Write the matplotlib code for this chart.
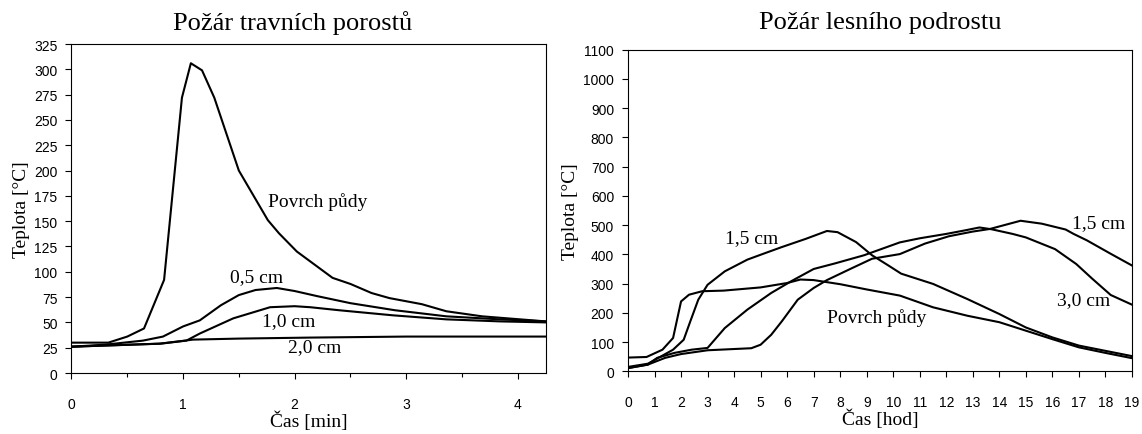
import matplotlib
matplotlib.use('Agg')
import matplotlib.pyplot as plt
from matplotlib.ticker import MultipleLocator

# pozar travnich porostu (cas v minutach)
t_povrch = [0, 0.33, 0.5, 0.65, 0.83, 0.99, 1.07, 1.17, 1.28, 1.5, 1.76, 1.86, 2.02, 2.34, 2.5, 2.69, 2.85, 3.14, 3.36, 3.68, 4.25]
T_povrch = [30, 30, 36, 44, 92, 272, 306, 299, 272, 200, 151, 138, 120, 94, 88, 79, 74, 68, 61, 56, 51]
t_05 = [0, 0.3, 0.64, 0.82, 1.0, 1.15, 1.34, 1.5, 1.65, 1.84, 2.0, 2.2, 2.5, 2.9, 3.36, 3.84, 4.25]
T_05 = [26, 28, 32, 36, 46, 52, 67, 77, 82, 84, 81, 76, 69, 62, 56, 53, 51]
t_10 = [0, 0.8, 1.03, 1.15, 1.45, 1.78, 2.0, 2.14, 2.4, 2.88, 3.36, 3.84, 4.25]
T_10 = [26, 29, 32, 39, 54, 65, 66, 65, 62, 57, 53, 51, 50]
t_20 = [0, 0.79, 1.09, 1.5, 2.14, 3.0, 4.25]
T_20 = [26, 29, 33, 34, 35, 36, 36]

# pozar lesniho podrostu (cas v hodinach)
h_povrch = [0, 0.7, 1.3, 1.7, 2.0, 2.3, 2.8, 3.6, 5.0, 6.0, 6.5, 7.0, 8.0, 9.0, 10.25, 11.5, 12.8, 14.0, 15.0, 16.0, 17.0, 18.0, 19.0]
L_povrch = [47, 49, 74, 114, 239, 262, 274, 276, 287, 302, 314, 312, 298, 280, 259, 219, 190, 168, 139, 110, 82, 63, 45]
h_15a = [0, 0.75, 1.7, 2.1, 2.35, 2.65, 3.0, 3.65, 4.5, 5.1, 5.8, 6.7, 7.5, 7.9, 8.6, 9.2, 9.8, 10.3, 11.5, 12.8, 14.0, 15.0, 16.0, 17.0, 18.0, 19.0]
L_15a = [15, 26, 74, 108, 171, 245, 296, 342, 382, 402, 425, 453, 480, 476, 442, 397, 363, 334, 299, 247, 196, 150, 116, 88, 70, 52]
h_30 = [0, 0.75, 1.1, 1.75, 2.4, 3.0, 3.65, 4.5, 5.4, 6.15, 7.0, 7.8, 8.9, 10.25, 11.0, 12.0, 12.7, 13.25, 13.7, 14.5, 15.0, 16.1, 16.9, 17.5, 18.2, 19.0]
L_30 = [11, 23, 46, 63, 74, 80, 148, 211, 268, 308, 350, 369, 397, 441, 455, 470, 482, 492, 486, 470, 458, 418, 367, 317, 261, 228]
h_15b = [0, 0.75, 1.4, 2.0, 3.0, 4.65, 5.0, 5.4, 5.8, 6.4, 7.0, 7.5, 8.4, 9.2, 10.25, 11.2, 12.1, 13.0, 13.65, 14.8, 15.6, 16.5, 16.8, 17.3, 18.2, 19.0]
L_15b = [11, 23, 46, 59, 72, 79, 91, 125, 171, 245, 285, 312, 351, 385, 401, 437, 462, 478, 487, 515, 505, 485, 470, 448, 402, 362]

serif = 'Liberation Serif'
sans = 'Liberation Sans'

fig = plt.figure(figsize=(11.42, 4.35), dpi=100)
ax1 = fig.add_axes([0.0626, 0.1402, 0.4152, 0.7563])
ax2 = fig.add_axes([0.5499, 0.1441, 0.4413, 0.7393])

lw = 1.5
for x, y in [(t_povrch, T_povrch), (t_05, T_05), (t_10, T_10), (t_20, T_20)]:
    ax1.plot(x, y, color='black', lw=lw)
for x, y in [(h_povrch, L_povrch), (h_15a, L_15a), (h_30, L_30), (h_15b, L_15b)]:
    ax2.plot(x, y, color='black', lw=lw)

ax1.set_xlim(0, 4.25)
ax1.set_ylim(0, 325)
ax1.xaxis.set_major_locator(MultipleLocator(1))
ax1.xaxis.set_minor_locator(MultipleLocator(0.5))
ax1.yaxis.set_major_locator(MultipleLocator(25))

ax2.set_xlim(0, 19)
ax2.set_ylim(0, 1100)
ax2.xaxis.set_major_locator(MultipleLocator(1))
ax2.yaxis.set_major_locator(MultipleLocator(100))

for ax in (ax1, ax2):
    ax.tick_params(which='both', direction='out', length=4, width=0.8)
    ax.tick_params(axis='x', which='major', pad=13)
    ax.tick_params(axis='y', pad=6)
    ax.tick_params(axis='x', which='minor', length=3)
    for lab in ax.get_xticklabels() + ax.get_yticklabels():
        lab.set_fontfamily(sans)
        lab.set_fontsize(10)
    for s in ax.spines.values():
        s.set_linewidth(0.8)
    ax.set_ylabel('Teplota [°C]', fontfamily=serif, fontsize=14, labelpad=3)

ax1.set_xlabel('Čas [min]', fontfamily=serif, fontsize=14, labelpad=0)
ax2.set_xlabel('Čas [hod]', fontfamily=serif, fontsize=14, labelpad=0)

fig.text(293 / 1142, 1 - 23 / 435, 'Požár travních porostů', fontfamily=serif, fontsize=19, ha='center', va='center')
fig.text(880 / 1142, 1 - 23 / 435, 'Požár lesního podrostu', fontfamily=serif, fontsize=19, ha='center', va='center')

# popisky krivek
fs = 14
ax1.text(1.76, 170, 'Povrch půdy', fontfamily=serif, fontsize=fs, va='center')
ax1.text(1.42, 95, '0,5 cm', fontfamily=serif, fontsize=fs, va='center')
ax1.text(1.71, 52, '1,0 cm', fontfamily=serif, fontsize=fs, va='center')
ax1.text(1.94, 26, '2,0 cm', fontfamily=serif, fontsize=fs, va='center')

ax2.text(3.67, 459, '1,5 cm', fontfamily=serif, fontsize=fs, va='center')
ax2.text(7.52, 187, 'Povrch půdy', fontfamily=serif, fontsize=fs, va='center')
ax2.text(16.74, 508, '1,5 cm', fontfamily=serif, fontsize=fs, va='center')
ax2.text(16.18, 244, '3,0 cm', fontfamily=serif, fontsize=fs, va='center')

fig.savefig('out.png', dpi=100)
